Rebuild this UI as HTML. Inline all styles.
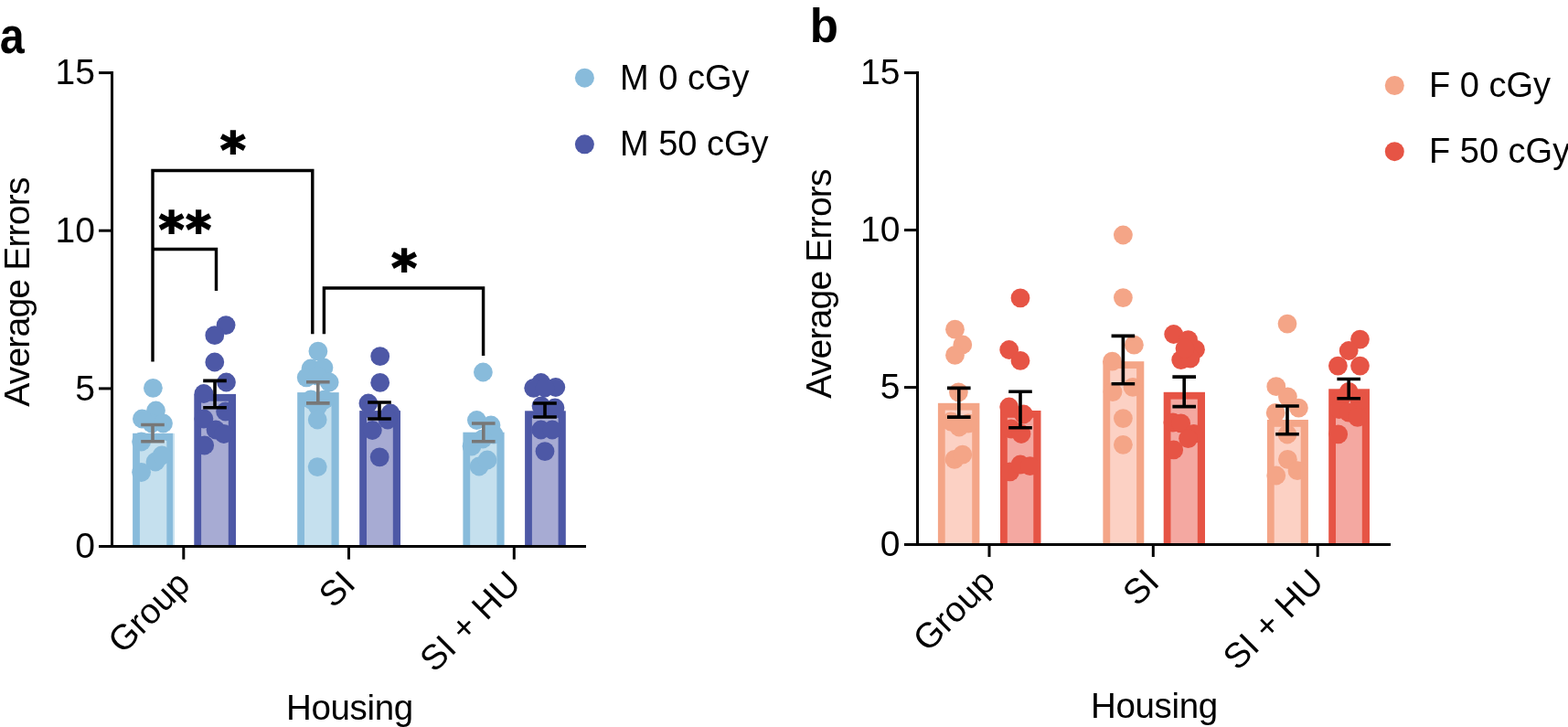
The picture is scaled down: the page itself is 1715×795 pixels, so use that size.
<!DOCTYPE html>
<html><head><meta charset="utf-8"><title>Average Errors by Housing</title>
<style>html,body{margin:0;padding:0;background:#fff;overflow:hidden}svg{display:block}</style>
</head><body>
<svg width="1715" height="795" viewBox="0 0 1715 795">
<rect width="1715" height="795" fill="#fff"/>
<text transform="translate(-0.3 57.6) scale(0.88 1)" font-size="55" font-weight="bold" font-family="'Liberation Sans', Arial, sans-serif">a</text>
<rect x="145.1" y="473.8" width="44.3" height="122.2" fill="#88bbdb"/>
<rect x="152.9" y="481.6" width="28.3" height="114.4" fill="#c5e0ee"/>
<rect x="212.3" y="430.9" width="45.7" height="165.1" fill="#4d58a6"/>
<rect x="220.1" y="438.7" width="29.7" height="157.3" fill="#a7abd3"/>
<rect x="325.2" y="429.1" width="45.5" height="166.9" fill="#88bbdb"/>
<rect x="333.0" y="436.9" width="29.5" height="159.1" fill="#c5e0ee"/>
<rect x="393.2" y="449.1" width="44.8" height="146.9" fill="#4d58a6"/>
<rect x="401.0" y="456.9" width="28.8" height="139.1" fill="#a7abd3"/>
<rect x="506.4" y="472.7" width="45.2" height="123.3" fill="#88bbdb"/>
<rect x="514.2" y="480.5" width="29.2" height="115.5" fill="#c5e0ee"/>
<rect x="574.1" y="449.3" width="44.7" height="146.7" fill="#4d58a6"/>
<rect x="581.9" y="457.1" width="28.7" height="138.9" fill="#a7abd3"/>
<rect x="189.4" y="474" width="1.5" height="122" fill="#c5e0ee"/>
<rect x="181" y="482" width="1.3" height="114" fill="#c5e0ee"/>
<circle cx="167.4" cy="424.3" r="10.4" fill="#88bbdb"/>
<circle cx="170.5" cy="449" r="10.4" fill="#88bbdb"/>
<circle cx="166" cy="463" r="10.4" fill="#88bbdb"/>
<circle cx="155.4" cy="458" r="10.4" fill="#88bbdb"/>
<circle cx="178.5" cy="463" r="10.4" fill="#88bbdb"/>
<circle cx="154.6" cy="483" r="10.4" fill="#88bbdb"/>
<circle cx="170" cy="505" r="10.4" fill="#88bbdb"/>
<circle cx="177" cy="498" r="10.4" fill="#88bbdb"/>
<circle cx="154.6" cy="516.5" r="10.4" fill="#88bbdb"/>
<circle cx="247.1" cy="355.6" r="10.4" fill="#4d58a6"/>
<circle cx="234.8" cy="366.7" r="10.4" fill="#4d58a6"/>
<circle cx="234.8" cy="396" r="10.4" fill="#4d58a6"/>
<circle cx="247.5" cy="418" r="10.4" fill="#4d58a6"/>
<circle cx="222.9" cy="430.5" r="10.4" fill="#4d58a6"/>
<circle cx="246.6" cy="450" r="10.4" fill="#4d58a6"/>
<circle cx="222.9" cy="458" r="10.4" fill="#4d58a6"/>
<circle cx="236" cy="470" r="10.4" fill="#4d58a6"/>
<circle cx="244.8" cy="474.5" r="10.4" fill="#4d58a6"/>
<circle cx="223.7" cy="487" r="10.4" fill="#4d58a6"/>
<circle cx="347.9" cy="384.1" r="10.4" fill="#88bbdb"/>
<circle cx="340" cy="403" r="10.4" fill="#88bbdb"/>
<circle cx="354" cy="402" r="10.4" fill="#88bbdb"/>
<circle cx="335.2" cy="412.8" r="10.4" fill="#88bbdb"/>
<circle cx="347" cy="411" r="10.4" fill="#88bbdb"/>
<circle cx="360.2" cy="418" r="10.4" fill="#88bbdb"/>
<circle cx="340" cy="437" r="10.4" fill="#88bbdb"/>
<circle cx="355" cy="437" r="10.4" fill="#88bbdb"/>
<circle cx="347.5" cy="444.4" r="10.4" fill="#88bbdb"/>
<circle cx="347.2" cy="459" r="10.4" fill="#88bbdb"/>
<circle cx="347.2" cy="510.7" r="10.4" fill="#88bbdb"/>
<circle cx="415.7" cy="389.7" r="10.4" fill="#4d58a6"/>
<circle cx="415.7" cy="418.4" r="10.4" fill="#4d58a6"/>
<circle cx="402.9" cy="441" r="10.4" fill="#4d58a6"/>
<circle cx="427" cy="452" r="10.4" fill="#4d58a6"/>
<circle cx="424" cy="459" r="10.4" fill="#4d58a6"/>
<circle cx="407.3" cy="470.5" r="10.4" fill="#4d58a6"/>
<circle cx="415.2" cy="499.8" r="10.4" fill="#4d58a6"/>
<circle cx="528.4" cy="407" r="10.4" fill="#88bbdb"/>
<circle cx="521.4" cy="459.5" r="10.4" fill="#88bbdb"/>
<circle cx="537" cy="465" r="10.4" fill="#88bbdb"/>
<circle cx="516" cy="488" r="10.4" fill="#88bbdb"/>
<circle cx="540" cy="475" r="10.4" fill="#88bbdb"/>
<circle cx="528" cy="480" r="10.4" fill="#88bbdb"/>
<circle cx="524" cy="510" r="10.4" fill="#88bbdb"/>
<circle cx="533" cy="503" r="10.4" fill="#88bbdb"/>
<circle cx="591.7" cy="418.5" r="10.4" fill="#4d58a6"/>
<circle cx="583.7" cy="424.3" r="10.4" fill="#4d58a6"/>
<circle cx="607.8" cy="423.5" r="10.4" fill="#4d58a6"/>
<circle cx="596" cy="424" r="10.4" fill="#4d58a6"/>
<circle cx="607" cy="446" r="10.4" fill="#4d58a6"/>
<circle cx="592" cy="444" r="10.4" fill="#4d58a6"/>
<circle cx="591.7" cy="470" r="10.4" fill="#4d58a6"/>
<circle cx="604" cy="470" r="10.4" fill="#4d58a6"/>
<circle cx="596" cy="493.6" r="10.4" fill="#4d58a6"/>
<path d="M154.2 464.5H179.8M167.0 464.5V482.8M154.2 482.8H179.8" stroke="#777" stroke-width="3.6" fill="none"/>
<path d="M222.2 416.4H247.8M235.0 416.4V445.8M222.2 445.8H247.8" stroke="#000" stroke-width="3.6" fill="none"/>
<path d="M335.0 417.7H360.6M347.8 417.7V440.9M335.0 440.9H360.6" stroke="#777" stroke-width="3.6" fill="none"/>
<path d="M402.2 440.0H427.8M415.0 440.0V458.0M402.2 458.0H427.8" stroke="#000" stroke-width="3.6" fill="none"/>
<path d="M516.0 463.0H541.6M528.8 463.0V482.7M516.0 482.7H541.6" stroke="#777" stroke-width="3.6" fill="none"/>
<path d="M583.2 441.0H608.8M596.0 441.0V456.0M583.2 456.0H608.8" stroke="#000" stroke-width="3.6" fill="none"/>
<path d="M122.5 78.1V597.5" stroke="#000" stroke-width="3" fill="none"/>
<path d="M108.0 597.5H641" stroke="#000" stroke-width="3" fill="none"/>
<path d="M108.0 79.6H122.5" stroke="#000" stroke-width="3" fill="none"/>
<text x="104" y="92.2" text-anchor="end" font-size="39" font-family="'Liberation Sans', Arial, sans-serif">15</text>
<path d="M108.0 252.2H122.5" stroke="#000" stroke-width="3" fill="none"/>
<text x="104" y="264.8" text-anchor="end" font-size="39" font-family="'Liberation Sans', Arial, sans-serif">10</text>
<path d="M108.0 424.9H122.5" stroke="#000" stroke-width="3" fill="none"/>
<text x="104" y="437.5" text-anchor="end" font-size="39" font-family="'Liberation Sans', Arial, sans-serif">5</text>
<path d="M108.0 597.5H122.5" stroke="#000" stroke-width="3" fill="none"/>
<text x="104" y="610.1" text-anchor="end" font-size="39" font-family="'Liberation Sans', Arial, sans-serif">0</text>
<path d="M200.8 597.5V611.7" stroke="#000" stroke-width="3" fill="none"/>
<path d="M381.5 597.5V611.7" stroke="#000" stroke-width="3" fill="none"/>
<path d="M562.3 597.5V611.7" stroke="#000" stroke-width="3" fill="none"/>
<text transform="translate(31.9 319.6) rotate(-90)" text-anchor="middle" font-size="39" letter-spacing="-0.8" font-family="'Liberation Sans', Arial, sans-serif">Average Errors</text>
<text x="382.4" y="786.5" text-anchor="middle" font-size="38.5" letter-spacing="-0.35" font-family="'Liberation Sans', Arial, sans-serif">Housing</text>
<text transform="translate(209.8 640.5) rotate(-45)" text-anchor="end" font-size="38.5" font-family="'Liberation Sans', Arial, sans-serif">Group</text>
<text transform="translate(390.5 640.5) rotate(-45)" text-anchor="end" font-size="38.5" font-family="'Liberation Sans', Arial, sans-serif">SI</text>
<text transform="translate(571.3 640.5) rotate(-45)" text-anchor="end" font-size="38.5" font-family="'Liberation Sans', Arial, sans-serif">SI + HU</text>
<path d="M167 395.4V186.5H341.8V365.3" stroke="#000" stroke-width="3.4" fill="none"/>
<path d="M167 272.5H236.5V318" stroke="#000" stroke-width="3.4" fill="none"/>
<path d="M354.4 365.3V315H528.6V388.9" stroke="#000" stroke-width="3.4" fill="none"/>
<text x="254.9" y="183.3" text-anchor="middle" font-family="'DejaVu Sans', sans-serif" font-weight="bold" font-size="53" stroke="#000" stroke-width="1.8">*</text>
<text x="203.2" y="270" text-anchor="middle" letter-spacing="1.8" font-family="'DejaVu Sans', sans-serif" font-weight="bold" font-size="53" stroke="#000" stroke-width="1.8">**</text>
<text x="442" y="311.6" text-anchor="middle" font-family="'DejaVu Sans', sans-serif" font-weight="bold" font-size="53" stroke="#000" stroke-width="1.8">*</text>
<circle cx="639.4" cy="85.2" r="10.5" fill="#88bbdb"/>
<circle cx="639.4" cy="157.8" r="10.5" fill="#4d58a6"/>
<text x="678" y="97.5" font-size="38" font-family="'Liberation Sans', Arial, sans-serif">M 0 cGy</text>
<text x="678" y="170.2" font-size="38" font-family="'Liberation Sans', Arial, sans-serif">M 50 cGy</text>
<text x="885.8" y="45.6" font-size="51" font-weight="bold" font-family="'Liberation Sans', Arial, sans-serif">b</text>
<rect x="1025.9" y="440.8" width="45.5" height="153.2" fill="#f4a587"/>
<rect x="1033.7" y="448.6" width="29.5" height="145.4" fill="#fcd1c4"/>
<rect x="1094.0" y="449.0" width="44.5" height="145.0" fill="#e65445"/>
<rect x="1101.8" y="456.8" width="28.5" height="137.2" fill="#f4a8a1"/>
<rect x="1206.4" y="395.2" width="44.9" height="198.8" fill="#f4a587"/>
<rect x="1214.2" y="403.0" width="28.9" height="191.0" fill="#fcd1c4"/>
<rect x="1272.7" y="428.8" width="45.3" height="165.2" fill="#e65445"/>
<rect x="1280.5" y="436.6" width="29.3" height="157.4" fill="#f4a8a1"/>
<rect x="1385.9" y="459.0" width="45.0" height="135.0" fill="#f4a587"/>
<rect x="1393.7" y="466.8" width="29.0" height="127.2" fill="#fcd1c4"/>
<rect x="1453.2" y="425.3" width="44.8" height="168.7" fill="#e65445"/>
<rect x="1461.0" y="433.1" width="28.8" height="160.9" fill="#f4a8a1"/>
<circle cx="1044.5" cy="360.2" r="10.4" fill="#f4a587"/>
<circle cx="1052.8" cy="377" r="10.4" fill="#f4a587"/>
<circle cx="1044.5" cy="388.4" r="10.4" fill="#f4a587"/>
<circle cx="1048.4" cy="428.8" r="10.4" fill="#f4a587"/>
<circle cx="1040" cy="461" r="10.4" fill="#f4a587"/>
<circle cx="1049" cy="467" r="10.4" fill="#f4a587"/>
<circle cx="1059" cy="463" r="10.4" fill="#f4a587"/>
<circle cx="1044" cy="502.4" r="10.4" fill="#f4a587"/>
<circle cx="1052.8" cy="497.2" r="10.4" fill="#f4a587"/>
<circle cx="1116" cy="325.8" r="10.4" fill="#e65445"/>
<circle cx="1103.7" cy="382.5" r="10.4" fill="#e65445"/>
<circle cx="1116" cy="394.4" r="10.4" fill="#e65445"/>
<circle cx="1103.7" cy="445" r="10.4" fill="#e65445"/>
<circle cx="1119.5" cy="453" r="10.4" fill="#e65445"/>
<circle cx="1106" cy="469" r="10.4" fill="#e65445"/>
<circle cx="1117" cy="474.5" r="10.4" fill="#e65445"/>
<circle cx="1104.6" cy="515.8" r="10.4" fill="#e65445"/>
<circle cx="1116" cy="508" r="10.4" fill="#e65445"/>
<circle cx="1126.6" cy="509.7" r="10.4" fill="#e65445"/>
<circle cx="1228.4" cy="257" r="10.4" fill="#f4a587"/>
<circle cx="1228.4" cy="325.6" r="10.4" fill="#f4a587"/>
<circle cx="1240.4" cy="377.2" r="10.4" fill="#f4a587"/>
<circle cx="1216.5" cy="395.2" r="10.4" fill="#f4a587"/>
<circle cx="1217" cy="428.6" r="10.4" fill="#f4a587"/>
<circle cx="1239" cy="423.3" r="10.4" fill="#f4a587"/>
<circle cx="1228.4" cy="457.6" r="10.4" fill="#f4a587"/>
<circle cx="1228.4" cy="486.3" r="10.4" fill="#f4a587"/>
<circle cx="1283.7" cy="365.5" r="10.4" fill="#e65445"/>
<circle cx="1299.6" cy="371.7" r="10.4" fill="#e65445"/>
<circle cx="1307.5" cy="382.2" r="10.4" fill="#e65445"/>
<circle cx="1291.7" cy="393.6" r="10.4" fill="#e65445"/>
<circle cx="1302" cy="392" r="10.4" fill="#e65445"/>
<circle cx="1296" cy="381" r="10.4" fill="#e65445"/>
<circle cx="1282.9" cy="462" r="10.4" fill="#e65445"/>
<circle cx="1291.7" cy="462.9" r="10.4" fill="#e65445"/>
<circle cx="1305.7" cy="474.3" r="10.4" fill="#e65445"/>
<circle cx="1299.6" cy="479.6" r="10.4" fill="#e65445"/>
<circle cx="1283.7" cy="491.9" r="10.4" fill="#e65445"/>
<circle cx="1408" cy="354.1" r="10.4" fill="#f4a587"/>
<circle cx="1395.8" cy="422.7" r="10.4" fill="#f4a587"/>
<circle cx="1408.4" cy="433.8" r="10.4" fill="#f4a587"/>
<circle cx="1420.4" cy="446.1" r="10.4" fill="#f4a587"/>
<circle cx="1395.2" cy="451.4" r="10.4" fill="#f4a587"/>
<circle cx="1408" cy="475" r="10.4" fill="#f4a587"/>
<circle cx="1408.4" cy="502.4" r="10.4" fill="#f4a587"/>
<circle cx="1419" cy="514.7" r="10.4" fill="#f4a587"/>
<circle cx="1395.8" cy="520" r="10.4" fill="#f4a587"/>
<circle cx="1487.5" cy="371.1" r="10.4" fill="#e65445"/>
<circle cx="1475.2" cy="383.5" r="10.4" fill="#e65445"/>
<circle cx="1463.4" cy="400.1" r="10.4" fill="#e65445"/>
<circle cx="1487.5" cy="400.1" r="10.4" fill="#e65445"/>
<circle cx="1475.2" cy="428.3" r="10.4" fill="#e65445"/>
<circle cx="1466" cy="436" r="10.4" fill="#e65445"/>
<circle cx="1487" cy="438" r="10.4" fill="#e65445"/>
<circle cx="1464.6" cy="447.6" r="10.4" fill="#e65445"/>
<circle cx="1475.2" cy="451.1" r="10.4" fill="#e65445"/>
<circle cx="1484.8" cy="456.4" r="10.4" fill="#e65445"/>
<circle cx="1463.7" cy="474.8" r="10.4" fill="#e65445"/>
<path d="M1036.0 424.4H1061.6M1048.8 424.4V456.1M1036.0 456.1H1061.6" stroke="#000" stroke-width="3.6" fill="none"/>
<path d="M1103.2 428.3H1128.8M1116.0 428.3V467.8M1103.2 467.8H1128.8" stroke="#000" stroke-width="3.6" fill="none"/>
<path d="M1215.6 367.4H1241.2M1228.4 367.4V419.8M1215.6 419.8H1241.2" stroke="#000" stroke-width="3.6" fill="none"/>
<path d="M1282.4 412.1H1308.0M1295.2 412.1V444.6M1282.4 444.6H1308.0" stroke="#000" stroke-width="3.6" fill="none"/>
<path d="M1395.2 444.0H1420.8M1408.0 444.0V474.8M1395.2 474.8H1420.8" stroke="#000" stroke-width="3.6" fill="none"/>
<path d="M1462.4 414.5H1488.0M1475.2 414.5V435.8M1462.4 435.8H1488.0" stroke="#000" stroke-width="3.6" fill="none"/>
<path d="M1003.5 78.1V595.5" stroke="#000" stroke-width="3" fill="none"/>
<path d="M989.0 595.5H1521" stroke="#000" stroke-width="3" fill="none"/>
<path d="M989.0 79.6H1003.5" stroke="#000" stroke-width="3" fill="none"/>
<text x="984.5" y="92.2" text-anchor="end" font-size="39" font-family="'Liberation Sans', Arial, sans-serif">15</text>
<path d="M989.0 251.6H1003.5" stroke="#000" stroke-width="3" fill="none"/>
<text x="984.5" y="264.2" text-anchor="end" font-size="39" font-family="'Liberation Sans', Arial, sans-serif">10</text>
<path d="M989.0 423.6H1003.5" stroke="#000" stroke-width="3" fill="none"/>
<text x="984.5" y="436.2" text-anchor="end" font-size="39" font-family="'Liberation Sans', Arial, sans-serif">5</text>
<path d="M989.0 595.5H1003.5" stroke="#000" stroke-width="3" fill="none"/>
<text x="984.5" y="608.1" text-anchor="end" font-size="39" font-family="'Liberation Sans', Arial, sans-serif">0</text>
<path d="M1082 595.5V609" stroke="#000" stroke-width="3" fill="none"/>
<path d="M1261.3 595.5V609" stroke="#000" stroke-width="3" fill="none"/>
<path d="M1441.2 595.5V609" stroke="#000" stroke-width="3" fill="none"/>
<text transform="translate(909 310.5) rotate(-90)" text-anchor="middle" font-size="39" letter-spacing="-0.8" font-family="'Liberation Sans', Arial, sans-serif">Average Errors</text>
<text x="1262.4" y="784.5" text-anchor="middle" font-size="38.5" letter-spacing="-0.35" font-family="'Liberation Sans', Arial, sans-serif">Housing</text>
<text transform="translate(1090.5 638.5) rotate(-45)" text-anchor="end" font-size="38.5" font-family="'Liberation Sans', Arial, sans-serif">Group</text>
<text transform="translate(1269.8 638.5) rotate(-45)" text-anchor="end" font-size="38.5" font-family="'Liberation Sans', Arial, sans-serif">SI</text>
<text transform="translate(1449.7 638.5) rotate(-45)" text-anchor="end" font-size="38.5" font-family="'Liberation Sans', Arial, sans-serif">SI + HU</text>
<circle cx="1525.3" cy="93.5" r="10.5" fill="#f4a587"/>
<circle cx="1525.3" cy="165.7" r="10.5" fill="#e65445"/>
<text x="1563" y="106.2" font-size="38" font-family="'Liberation Sans', Arial, sans-serif">F 0 cGy</text>
<text x="1563" y="178" font-size="38" font-family="'Liberation Sans', Arial, sans-serif">F 50 cGy</text>
</svg>
</body></html>
